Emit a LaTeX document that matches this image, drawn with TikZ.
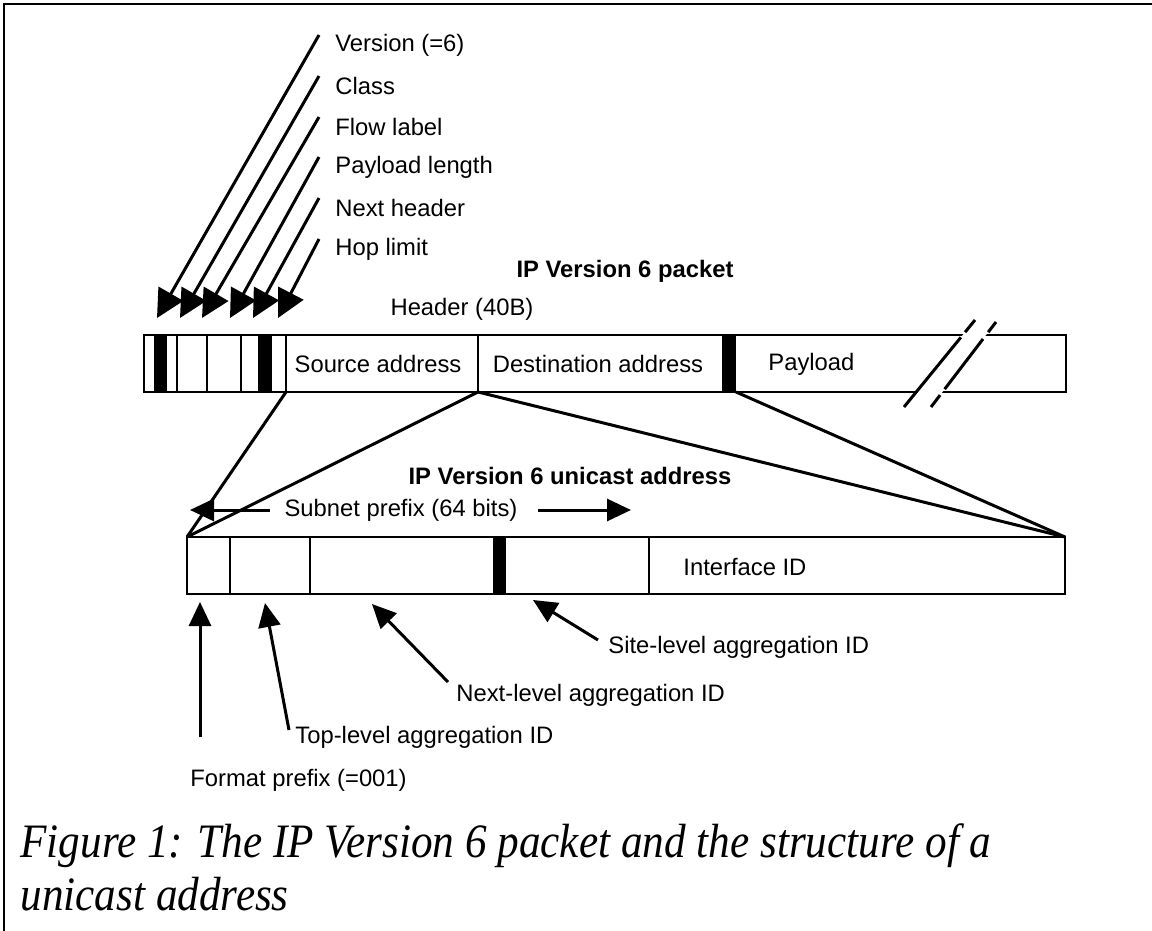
\documentclass[tikz,border=0pt]{standalone}
\usepackage{graphicx}
\usepackage{fontspec}
\setmainfont{Liberation Sans}
\newfontfamily\capfont{Liberation Serif}
\usetikzlibrary{arrows.meta,calc,positioning}

\tikzset{
  lbl/.style={font=\fontsize{11.9}{14}\selectfont,inner sep=0pt},
  ttl/.style={font=\fontsize{11.9}{14}\selectfont\bfseries,inner sep=0pt},
  figcap/.style={font=\capfont\itshape\fontsize{24}{28}\selectfont,inner sep=0pt,anchor=base west},
  ptr/.style={line width=1.5pt,-{Triangle[length=12pt,width=11pt]}},
  bigptr/.style={line width=1.5pt,-{Triangle[length=14pt,width=14pt]}},
  wire/.style={line width=1.5pt},
  bar/.style={line width=1pt},
}

\begin{document}
\begin{tikzpicture}[x=0.5pt,y=-0.5pt]
\useasboundingbox (0,0) rectangle (1152,931);
\draw[line width=1pt] (1152,4) -- (4,4) -- (4,931);

% packet
\node[ttl] (pkt) at (625,271) {IP Version 6 packet};
\node[lbl] (hdr) at (462,309) {Header (40B)};
\draw[bar] (144,335) rectangle (1066,392);
\foreach \a/\b in {154/167,258/272,722/736}{\fill (\a,335) rectangle (\b,392);}
\foreach \x in {177,207,241,286,478}{\draw[bar] (\x,335) -- (\x,392);}
\node[lbl] (src) at (378,364) {Source address};
\node[lbl] (dst) at (598,364) {Destination address};
\node[lbl,anchor=west] (pay) at (768,364) {Payload};

% header fields
\foreach \i/\txt/\ty/\tx in {1/Version (=6)/45/157,2/Class/86/180,3/Flow label/127/202,
    4/Payload length/167/230,5/Next header/208/253,6/Hop limit/249/278}{
  \node[lbl,anchor=west] (h\i) at (335,\ty) {\txt};
  \coordinate (hp\i) at (\tx,318);
  \draw[bigptr] ($(h\i.west)+(-16,-10)$) -- (hp\i);
}

% break in the payload
\coordinate (bk1a) at (904,407); \coordinate (bk1b) at (975,320);
\coordinate (bk2a) at (931,407); \coordinate (bk2b) at (996,322);
\fill[white] (bk1a) -- (bk1b) -- (bk2b) -- (bk2a) -- cycle;
\draw[wire] (bk1a) -- ($(bk1a)!0.80!(bk1b)$);
\draw[wire] ($(bk1a)!0.86!(bk1b)$) -- (bk1b);
\draw[wire] (bk2a) -- ($(bk2a)!0.14!(bk2b)$);
\draw[wire] ($(bk2a)!0.21!(bk2b)$) -- ($(bk2a)!0.80!(bk2b)$);
\draw[wire] ($(bk2a)!0.88!(bk2b)$) -- (bk2b);

% unicast address
\node[ttl] (uni) at (570,476) {IP Version 6 unicast address};
\coordinate (ua) at (187,537);
\coordinate (ub) at (1065,537);
\draw[bar] (ua) rectangle (1065,594);
\foreach \x in {230,310,649}{\draw[bar] (\x,537) -- (\x,594);}
\fill (493,537) rectangle (506,594);
\node[lbl,anchor=west] (ifid) at (683,567) {Interface ID};

% fan from packet to address
\coordinate (pa) at (286,392);
\coordinate (pb) at (478,392);
\coordinate (pc) at (736,392);
\draw[wire] (pa) -- (ua);
\draw[wire] (pb) -- (ua);
\draw[wire] (pb) -- (ub);
\draw[wire] (pc) -- (ub);

\node[lbl] (sub) at (401,510) {Subnet prefix (64 bits)};
\coordinate (sl) at (190,510);
\coordinate (sr) at (631,510);
\draw[ptr] ([xshift=-7pt]sub.west) -- (sl);
\draw[ptr] ([xshift=10pt]sub.east) -- (sr);

% address fields
\node[lbl,anchor=west] (site) at (608,647) {Site-level aggregation ID};
\node[lbl,anchor=west] (nla) at (456,695) {Next-level aggregation ID};
\node[lbl,anchor=west] (tla) at (295,737) {Top-level aggregation ID};
\node[lbl,anchor=west] (fmt) at (190,780) {Format prefix (=001)};
\coordinate (tsite) at (533,600);
\coordinate (tnla) at (372,604);
\coordinate (ttla) at (265,603);
\coordinate (tfmt) at (200,602);
\draw[ptr] ($(site.west)+(-10,-7)$) -- (tsite);
\draw[ptr] ($(nla.west)+(-8,-13)$) -- (tnla);
\draw[ptr] ($(tla.west)+(-6,-7)$) -- (ttla);
\draw[ptr] ($(fmt.west)+(10,-43)$) -- (tfmt);

% caption
\node[figcap] (cap1) at (20,857) {\scalebox{0.9}[1]{Figure 1: The IP Version 6 packet and the structure of a}};
\node[figcap] (cap2) at (20,910) {\scalebox{0.9}[1]{unicast address}};
\end{tikzpicture}
\end{document}
